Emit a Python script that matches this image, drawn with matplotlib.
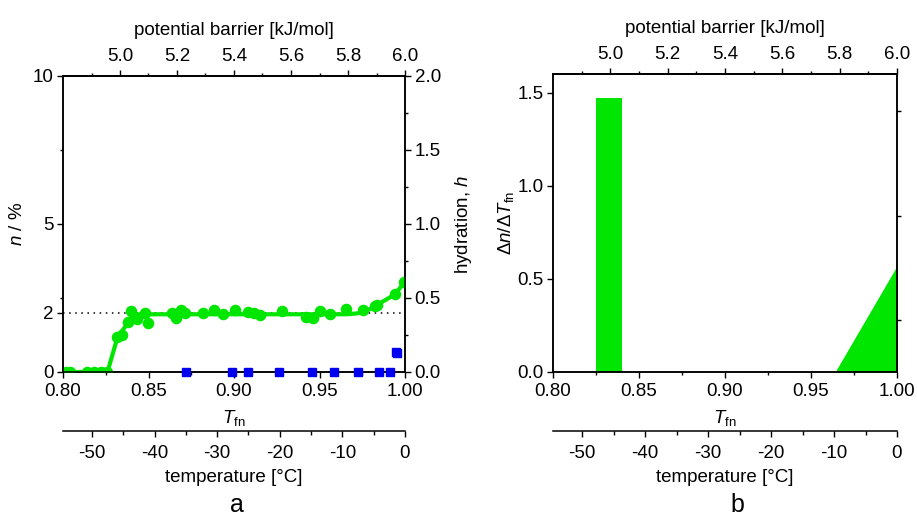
import numpy as np
import matplotlib
matplotlib.use("Agg")
import matplotlib.pyplot as plt
from matplotlib.ticker import MultipleLocator, FixedLocator, NullFormatter

plt.rcParams['font.family'] = ['Liberation Sans', 'DejaVu Sans']
plt.rcParams['mathtext.fontset'] = 'custom'
plt.rcParams['mathtext.rm'] = 'Liberation Sans'
plt.rcParams['mathtext.it'] = 'Liberation Sans:italic'
plt.rcParams['axes.unicode_minus'] = False
plt.rcParams['font.size'] = 13.5
plt.rcParams['axes.linewidth'] = 1.1

FS = 13.5

# panel a: fraction of unfrozen water n (%) vs normalised freezing temperature
tfn_pts = [0.802, 0.804, 0.814, 0.818, 0.822, 0.8255, 0.8314, 0.8343, 0.8382, 0.8396,
           0.8435, 0.848, 0.8499, 0.8636, 0.8661, 0.8688, 0.8713, 0.882, 0.8883, 0.8934,
           0.9006, 0.9080, 0.9117, 0.9152, 0.9279, 0.9423, 0.9462, 0.9505, 0.9559, 0.9655,
           0.9755, 0.9825, 0.9835, 0.9944, 0.9995]
n_pts = [0, 0, 0, 0, 0, 0, 1.19, 1.24, 1.70, 2.06,
         1.78, 1.98, 1.67, 2.0, 1.82, 2.08, 2.0, 2.0, 2.1, 1.96,
         2.08, 2.03, 2.0, 1.93, 2.05, 1.87, 1.81, 2.05, 1.95, 2.12,
         2.08, 2.22, 2.26, 2.64, 3.05]

# fitted curve
line_x = [0.800, 0.826, 0.832, 0.838, 0.841, 0.850, 0.966, 0.972, 0.977, 0.983, 0.994, 1.000]
line_y = [0, 0, 1.2, 1.65, 1.95, 1.95, 1.95, 1.98, 2.05, 2.24, 2.62, 3.05]

# hydration h (right axis)
tfn_h = [0.8719, 0.8987, 0.9084, 0.9265, 0.9454, 0.9585, 0.9727, 0.9850, 0.9912, 0.9948, 0.9953]
h_pts = [0, 0, 0, 0, 0, 0, 0, 0, 0, 0.135, 0.13]

n_ref = 2

# panel b: dn/dTfn
bar_left = 0.825
bar_width = 0.015
bar_height = 1.47
ramp_x = [0.964, 1.0]
ramp_y = [0.0, 0.57]

green = '#00e600'
blue = '#0000ee'


def to_temp(t):
    return 273.15 * (t - 1.0)


def from_temp(c):
    return c / 273.15 + 1.0


def to_barrier(t):
    return 6.0 * t


def from_barrier(e):
    return e / 6.0


def style_common(ax, loc):
    ax.set_xlim(0.8, 1.0)
    ax.xaxis.set_major_locator(MultipleLocator(0.05))
    ax.xaxis.set_minor_locator(MultipleLocator(0.025))
    ax.xaxis.set_major_formatter(plt.FormatStrFormatter('%.2f'))
    ax.set_xlabel(r'$T_{\rm fn}$', labelpad=6, fontsize=FS)
    ax.tick_params(axis='x', which='major', length=4, width=1, pad=4, labelsize=FS)
    ax.tick_params(axis='x', which='minor', length=2.5, width=1)

    top = ax.secondary_xaxis('top', functions=(to_barrier, from_barrier))
    top.xaxis.set_major_locator(FixedLocator([5.0, 5.2, 5.4, 5.6, 5.8, 6.0]))
    top.xaxis.set_minor_locator(FixedLocator([4.9, 5.1, 5.3, 5.5, 5.7, 5.9]))
    top.xaxis.set_major_formatter(plt.FormatStrFormatter('%.1f'))
    top.tick_params(which='major', length=4, width=1, pad=4, labelsize=FS)
    top.tick_params(which='minor', length=2.5, width=1)
    top.set_xlabel('potential barrier [kJ/mol]', labelpad=9, fontsize=FS)

    bot = ax.secondary_xaxis(loc, functions=(to_temp, from_temp))
    bot.xaxis.set_major_locator(MultipleLocator(10))
    bot.xaxis.set_minor_locator(MultipleLocator(5))
    bot.tick_params(which='major', length=4, width=1, pad=6, labelsize=FS)
    bot.tick_params(which='minor', length=3, width=1)
    bot.set_xlabel('temperature [°C]', labelpad=5, fontsize=FS)


fig = plt.figure(figsize=(9.17, 5.19), dpi=100)

# ---- panel a ----
ax = fig.add_axes([63 / 917, 147 / 519, 342 / 917, 296 / 519])
ax.plot(line_x, line_y, color=green, lw=3, zorder=3)
ax.plot(tfn_pts, n_pts, 'o', color=green, ms=7.3, zorder=4)
ax.axhline(n_ref, color='black', ls=(0, (1, 3)), lw=1.1, zorder=2)
ax.set_ylim(0, 10)
ax.yaxis.set_major_locator(FixedLocator([0, 2, 5, 10]))
ax.yaxis.set_minor_locator(FixedLocator([2.5, 7.5]))
ax.tick_params(axis='y', which='major', length=4, width=1, pad=3, labelsize=FS)
ax.tick_params(axis='y', which='minor', length=2.5, width=1)
ax.set_ylabel(r'$n$ / %', fontsize=FS)
ax.yaxis.set_label_coords(-0.109, 0.5)
style_common(ax, -59 / 296)

axh = ax.twinx()
axh.plot(tfn_h, h_pts, 's', color=blue, ms=6, zorder=5, clip_on=False)
axh.set_ylim(0, 2.0)
axh.yaxis.set_major_locator(MultipleLocator(0.5))
axh.yaxis.set_minor_locator(MultipleLocator(0.25))
axh.yaxis.set_major_formatter(plt.FormatStrFormatter('%.1f'))
axh.tick_params(axis='y', which='major', length=4, width=1, pad=3, labelsize=FS)
axh.tick_params(axis='y', which='minor', length=2.5, width=1)
axh.set_ylabel(r'hydration, $h$', fontsize=FS)
axh.yaxis.set_label_coords(1.14, 0.5)

# ---- panel b ----
bx = fig.add_axes([553 / 917, 147 / 519, 344 / 917, 298 / 519])
bx.bar(bar_left, bar_height, width=bar_width, align='edge', color=green, lw=0)
bx.fill_between(ramp_x, ramp_y, color=green, lw=0)
bx.set_ylim(0, 1.6)
bx.yaxis.set_major_locator(MultipleLocator(0.5))
bx.yaxis.set_major_formatter(plt.FormatStrFormatter('%.1f'))
bx.tick_params(axis='y', which='major', length=4, width=1, pad=3, labelsize=FS)
bx.set_ylabel(r'$\Delta n/\Delta T_{\rm fn}$', fontsize=FS)
bx.yaxis.set_label_coords(-0.108, 0.5)
style_common(bx, -59 / 298)

bx2 = bx.twinx()
bx2.set_ylim(0, 1.6)
bx2.yaxis.set_major_locator(FixedLocator([0.28, 0.84, 1.40]))
bx2.yaxis.set_major_formatter(NullFormatter())
bx2.tick_params(axis='y', length=3, width=1)

fig.text(237 / 917, 1 - 505 / 519, 'a', ha='center', va='center', fontsize=18)
fig.text(737 / 917, 1 - 505 / 519, 'b', ha='center', va='center', fontsize=18)

fig.savefig('out.png', dpi=100)
